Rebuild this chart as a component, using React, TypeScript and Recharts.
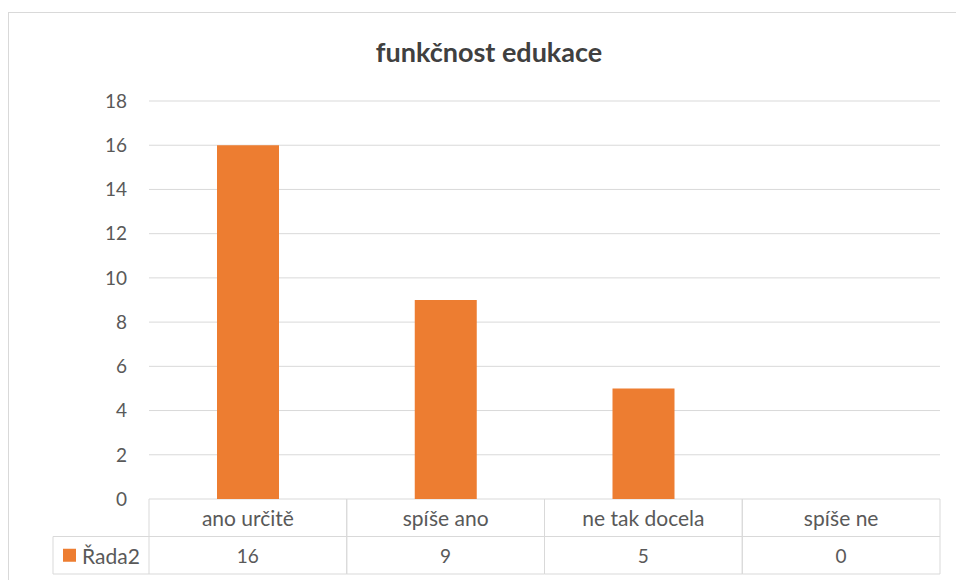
import { Bar, BarChart, CartesianGrid, XAxis, YAxis } from "recharts";

const categories = ["ano určitě", "spíše ano", "ne tak docela", "spíše ne"];
const values = [16, 9, 5, 0];
const yTicks = [0, 2, 4, 6, 8, 10, 12, 14, 16, 18];
const seriesName = "Řada2";
const chartTitle = "funkčnost edukace";

const data = categories.map((name, i) => ({ name, value: values[i] }));

const FONT = "Lato, 'Open Sans', sans-serif";
const TEXT = "#595959";
const TITLE = "#404040";
const LINE = "#d9d9d9";
const ORANGE = "#ed7d31";
const ROW = 37.5;
const LEGEND_LEFT = 53;

// data table under the plot: category row, then the values row
function TableTick(props: any) {
  const { x, y, payload, index } = props;
  const half = payload?.offset ?? 98.9;
  const left = x - half;
  const right = x + half;
  return (
    <g>
      <line x1={left} y1={y} x2={left} y2={y + 2 * ROW} stroke={LINE} />
      <line x1={right} y1={y} x2={right} y2={y + 2 * ROW} stroke={LINE} />
      <line x1={left} y1={y + ROW} x2={right} y2={y + ROW} stroke={LINE} />
      <line x1={left} y1={y + 2 * ROW} x2={right} y2={y + 2 * ROW} stroke={LINE} />
      <text x={x} y={y + ROW / 2} textAnchor="middle" dominantBaseline="central" fill={TEXT} fontSize={21} fontFamily={FONT}>
        {payload.value}
      </text>
      <text x={x} y={y + ROW * 1.5} textAnchor="middle" dominantBaseline="central" fill={TEXT} fontSize={19} fontFamily={FONT}>
        {values[index]}
      </text>
      {index === 0 && (
        <g>
          <line x1={LEGEND_LEFT} y1={y + ROW} x2={left} y2={y + ROW} stroke={LINE} />
          <line x1={LEGEND_LEFT} y1={y + 2 * ROW} x2={left} y2={y + 2 * ROW} stroke={LINE} />
          <line x1={LEGEND_LEFT} y1={y + ROW} x2={LEGEND_LEFT} y2={y + 2 * ROW} stroke={LINE} />
          <rect x={LEGEND_LEFT + 10} y={y + ROW * 1.5 - 6.5} width={13} height={13} fill={ORANGE} />
          <text x={LEGEND_LEFT + 29} y={y + ROW * 1.5} dominantBaseline="central" fill={TEXT} fontSize={21} fontFamily={FONT}>
            {seriesName}
          </text>
        </g>
      )}
    </g>
  );
}

export default function App() {
  return (
    <div
      style={{
        position: "absolute",
        left: 0,
        top: 0,
        width: 956,
        height: 580,
        overflow: "hidden",
        background: "#fff",
        fontFamily: FONT,
      }}
    >
      <div
        style={{
          position: "absolute",
          left: 8,
          top: 12,
          width: 1000,
          height: 640,
          border: `1px solid ${LINE}`,
        }}
      />
      <div
        style={{
          position: "absolute",
          left: 0,
          top: 35,
          width: 978,
          textAlign: "center",
          fontSize: 27,
          lineHeight: "34px",
          fontWeight: 700,
          color: TITLE,
        }}
      >
        {chartTitle}
      </div>
      <div style={{ position: "absolute", left: 0, top: 0 }}>
        <BarChart
          width={956}
          height={580}
          data={data}
          margin={{ top: 101, right: 16, bottom: 0, left: 0 }}
          barSize={62}
        >
          <CartesianGrid vertical={false} stroke={LINE} />
          <XAxis
            dataKey="name"
            height={81}
            axisLine={false}
            tickLine={false}
            tickSize={0}
            tickMargin={0}
            interval={0}
            tick={<TableTick />}
          />
          <YAxis
            width={149}
            domain={[0, 18]}
            ticks={yTicks}
            axisLine={false}
            tickLine={false}
            tickSize={0}
            tickMargin={22}
            tick={{ fill: TEXT, fontSize: 19, fontFamily: FONT }}
          />
          <Bar dataKey="value" name={seriesName} fill={ORANGE} isAnimationActive={false} />
        </BarChart>
      </div>
    </div>
  );
}
